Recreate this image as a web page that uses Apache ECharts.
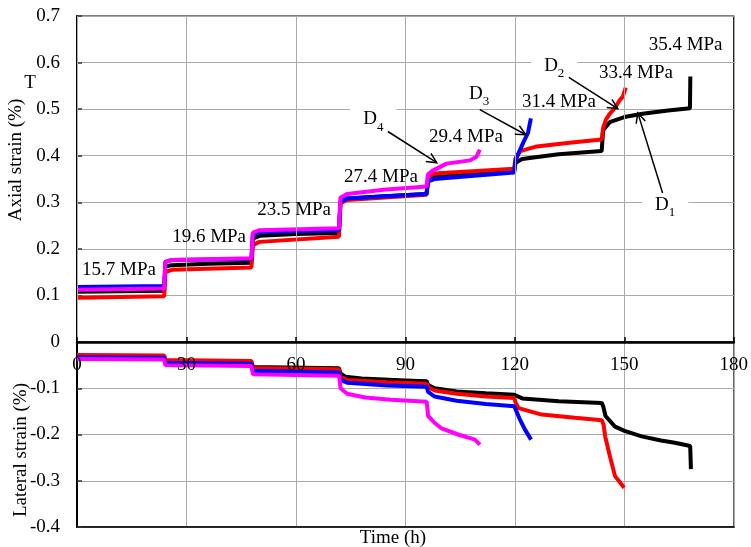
<!DOCTYPE html>
<html>
<head>
<meta charset="utf-8">
<script src="https://cdn.jsdelivr.net/npm/echarts@6/dist/echarts.min.js"></script>
<style>html,body{margin:0;padding:0;background:#fff}#c{width:751px;height:547px}</style>
</head>
<body>
<div id="c"></div>
<script>
// ---- data ----
var xTicks = [0, 30, 60, 90, 120, 150, 180];
var yTicksAxial = [0, 0.1, 0.2, 0.3, 0.4, 0.5, 0.6, 0.7];
var yTicksLateral = [-0.4, -0.3, -0.2, -0.1, 0];
var seriesNames = ['D1', 'D2', 'D3', 'D4'];

var d1Axial = [[0,0.108],[12,0.109],[23.9,0.11],[24.2,0.162],[26,0.165],[36,0.168],[47.8,0.17],
  [48.2,0.222],[50,0.228],[60,0.232],[71.8,0.234],[72.2,0.3],[74,0.308],[84,0.313],[95.8,0.318],
  [96.2,0.345],[98,0.354],[108,0.36],[119.8,0.366],[120.2,0.385],[122,0.393],[132,0.403],[143.8,0.41],
  [144.2,0.455],[146,0.472],[150,0.483],[155,0.49],[162,0.497],[168,0.502],[168.1,0.57]];
var d2Axial = [[0,0.095],[23.9,0.098],[24.2,0.15],[26,0.155],[47.8,0.16],[48.2,0.208],[50,0.215],
  [71.8,0.226],[72.2,0.298],[74,0.305],[95.8,0.316],[96.2,0.355],[98,0.362],[119.8,0.372],
  [120.2,0.395],[121.5,0.41],[126,0.42],[135,0.428],[143.8,0.435],[144.2,0.46],[145,0.478],
  [146,0.49],[147.4,0.502],[148.8,0.52],[149.6,0.527],[150.4,0.546]];
var d3Axial = [[0,0.118],[23.9,0.12],[24.2,0.172],[26,0.176],[47.8,0.178],[48.2,0.232],[50,0.236],
  [71.8,0.24],[72.2,0.302],[74,0.308],[95.8,0.318],[96.2,0.345],[98,0.35],[119.8,0.364],
  [120.2,0.39],[121,0.405],[122.3,0.428],[123.6,0.449],[124.4,0.48]];
var d4Axial = [[0,0.112],[23.9,0.115],[24.2,0.172],[26,0.176],[47.8,0.18],[48.2,0.235],[50,0.24],
  [71.8,0.244],[72.2,0.31],[74,0.318],[84,0.327],[95.8,0.334],[96.2,0.36],[97.5,0.368],
  [101.3,0.383],[107.7,0.39],[109.5,0.398],[110.4,0.413]];

var d1Lateral = [[0,-0.03],[23.9,-0.031],[24.2,-0.042],[47.8,-0.044],[48.2,-0.054],[71.8,-0.057],
  [72.2,-0.068],[73.5,-0.075],[78,-0.079],[90,-0.083],[95.8,-0.085],[96.2,-0.093],[98,-0.1],
  [104,-0.107],[112,-0.111],[119.8,-0.114],[120.2,-0.118],[122,-0.122],[132,-0.128],[143.8,-0.132],
  [144.2,-0.14],[144.8,-0.16],[147.4,-0.183],[150,-0.192],[154.7,-0.204],[160,-0.213],
  [163.8,-0.218],[168,-0.225],[168.2,-0.275]];
var d2Lateral = [[0,-0.028],[23.9,-0.029],[24.2,-0.039],[47.8,-0.041],[48.2,-0.056],[71.8,-0.059],
  [72.2,-0.076],[74,-0.082],[85,-0.087],[95.8,-0.09],[96.2,-0.098],[98,-0.105],[104,-0.112],
  [112,-0.118],[119.8,-0.121],[120.2,-0.132],[121,-0.143],[127.3,-0.157],[136.4,-0.164],
  [143.8,-0.169],[144.3,-0.18],[144.7,-0.204],[146,-0.247],[147.4,-0.29],[148.8,-0.304],[149.9,-0.315]];
var d3Lateral = [[0,-0.033],[23.9,-0.034],[24.2,-0.045],[47.8,-0.047],[48.2,-0.062],[71.8,-0.066],
  [72.2,-0.082],[74,-0.088],[85,-0.094],[95.8,-0.097],[96.2,-0.108],[98,-0.118],[104,-0.127],
  [112,-0.134],[119.8,-0.139],[120.4,-0.15],[121.2,-0.165],[122.7,-0.189],[124.4,-0.211]];
var d4Lateral = [[0,-0.037],[23.9,-0.038],[24.2,-0.05],[47.8,-0.052],[48.2,-0.07],[71.8,-0.073],
  [72.2,-0.1],[74,-0.112],[79,-0.12],[86,-0.125],[95.8,-0.129],[96.2,-0.16],[98,-0.175],
  [99.9,-0.187],[104.4,-0.2],[109,-0.211],[110.4,-0.222]];

// annotations (data coordinates of the axial panel)
var stressLabels = [
  {text:'15.7 MPa', t:11.5, v:0.155},
  {text:'19.6 MPa', t:36.2, v:0.226},
  {text:'23.5 MPa', t:59.5, v:0.284},
  {text:'27.4 MPa', t:83.3, v:0.355},
  {text:'29.4 MPa', t:106.6, v:0.441},
  {text:'31.4 MPa', t:132.1, v:0.516},
  {text:'33.4 MPa', t:153.2, v:0.578},
  {text:'35.4 MPa', t:166.8, v:0.637}
];
var specimenLabels = [
  {sub:'4', t:81.2, v:0.478},
  {sub:'3', t:110.2, v:0.533},
  {sub:'2', t:130.8, v:0.593},
  {sub:'1', t:161.2, v:0.295}
];
var arrows = [
  {from:[85.2,0.452], to:[98.6,0.385]},
  {from:[110.4,0.499], to:[123.0,0.445]},
  {from:[134.8,0.568], to:[148.2,0.501]},
  {from:[160.5,0.320], to:[153.7,0.492]}
];

var colors = ['#000000', '#ff0000', '#0000ff', '#ff00ff'];
var axialSets = [d1Axial, d2Axial, d3Axial, d4Axial];
var lateralSets = [d1Lateral, d2Lateral, d3Lateral, d4Lateral];

var FONT = 'Liberation Serif';
var F19 = '19px "' + FONT + '"';
var chart = echarts.init(document.getElementById('c'));
var series = [];
for (var i = 0; i < 4; i++) {
  [axialSets[i], lateralSets[i]].forEach(function (d, k) {
    series.push({
      name: seriesNames[i] + (k ? ' lateral' : ' axial'),
      type: 'line', data: d, showSymbol: false, symbol: 'none',
      xAxisIndex: k, yAxisIndex: k,
      lineStyle: {color: colors[i], width: 4}, itemStyle: {color: colors[i]},
      animation: false, z: 2 + i
    });
  });
}
var gridLine = {show: true, lineStyle: {color: '#aaaaaa', width: 1}};
function yFmt(v) { return Math.abs(v) < 1e-9 ? '0' : v.toFixed(1); }
chart.setOption({
  animation: false,
  grid: [
    {left: 77, right: 17, top: 16, height: 326, show: true, borderColor: '#000', borderWidth: 1.2},
    {left: 77, right: 17, top: 342, bottom: 20, show: true, borderColor: '#000', borderWidth: 1.2}
  ],
  xAxis: [{
    gridIndex: 0, type: 'value', min: xTicks[0], max: xTicks[xTicks.length - 1], interval: 30, z: 10,
    axisLine: {onZero: false, lineStyle: {color: '#000', width: 2.5}},
    axisTick: {inside: true, length: 5, lineStyle: {color: '#000', width: 1.5}},
    axisLabel: {color: '#000', fontFamily: FONT, fontSize: 19, margin: 14, showMinLabel: true, showMaxLabel: true},
    splitLine: gridLine
  }, {
    gridIndex: 1, type: 'value', min: xTicks[0], max: xTicks[xTicks.length - 1], interval: 30,
    axisLine: {onZero: false, lineStyle: {color: '#000', width: 1.5}},
    axisTick: {show: false}, axisLabel: {show: false},
    splitLine: gridLine
  }],
  yAxis: [{
    gridIndex: 0, type: 'value', min: yTicksAxial[0], max: yTicksAxial[yTicksAxial.length - 1], interval: 0.1,
    axisLine: {show: true, onZero: false, lineStyle: {color: '#000', width: 2}},
    axisTick: {show: true, inside: true, length: 5, lineStyle: {color: '#333', width: 1.5}},
    axisLabel: {color: '#000', fontFamily: FONT, fontSize: 19, margin: 17, formatter: yFmt},
    splitLine: gridLine
  }, {
    gridIndex: 1, type: 'value', min: yTicksLateral[0], max: yTicksLateral[yTicksLateral.length - 1], interval: 0.1,
    axisLine: {show: true, onZero: false, lineStyle: {color: '#000', width: 2}},
    axisTick: {show: true, inside: true, length: 5, lineStyle: {color: '#333', width: 1.5}},
    axisLabel: {color: '#000', fontFamily: FONT, fontSize: 19, margin: 17, formatter: yFmt, showMaxLabel: false},
    splitLine: gridLine
  }],
  series: series
});

function px(t, v) { return chart.convertToPixel({gridIndex: 0}, [t, v]); }
var g = [];
g.push({type: 'text', x: 30, y: 83, z: 50, style: {text: 'T', fill: '#000', font: F19, align: 'center', verticalAlign: 'middle'}});
g.push({type: 'text', x: 16, y: 160, rotation: Math.PI / 2, z: 50, style: {text: 'Axial strain (%)', fill: '#000', font: F19, align: 'center', verticalAlign: 'middle'}});
g.push({type: 'text', x: 21, y: 450, rotation: Math.PI / 2, z: 50, style: {text: 'Lateral strain (%)', fill: '#000', font: F19, align: 'center', verticalAlign: 'middle'}});
g.push({type: 'text', x: 393, y: 538, z: 50, style: {text: 'Time (h)', fill: '#000', font: F19, align: 'center', verticalAlign: 'middle'}});
stressLabels.forEach(function (s) {
  var p = px(s.t, s.v);
  g.push({type: 'text', x: p[0], y: p[1], z: 50, style: {text: s.text, fill: '#000', font: F19, align: 'center', verticalAlign: 'middle'}});
});
specimenLabels.forEach(function (s) {
  var p = px(s.t, s.v);
  g.push({type: 'text', x: p[0], y: p[1], z: 50, style: {
    text: '{d|D}{s|' + s.sub + '}', align: 'center', verticalAlign: 'middle',
    backgroundColor: '#fff', padding: [3, 13, 3, 13],
    rich: {d: {fill: '#000', font: F19, verticalAlign: 'bottom'},
           s: {fill: '#000', font: '13px "' + FONT + '"', verticalAlign: 'bottom', padding: [0, 0, -5, 0]}}
  }});
});
arrows.forEach(function (a) {
  var p0 = px(a.from[0], a.from[1]), p1 = px(a.to[0], a.to[1]);
  var ang = Math.atan2(p1[1] - p0[1], p1[0] - p0[0]);
  var L = 11, h = 0.45;
  var l1 = [p1[0] - L * Math.cos(ang - h), p1[1] - L * Math.sin(ang - h)];
  var l2 = [p1[0] - L * Math.cos(ang + h), p1[1] - L * Math.sin(ang + h)];
  g.push({type: 'line', z: 51, shape: {x1: p0[0], y1: p0[1], x2: p1[0], y2: p1[1]}, style: {stroke: '#000', lineWidth: 1.5}});
  g.push({type: 'polyline', z: 51, shape: {points: [l1, p1, l2]}, style: {stroke: '#000', lineWidth: 1.5, fill: null}});
});
chart.setOption({graphic: g});
</script>
</body>
</html>
